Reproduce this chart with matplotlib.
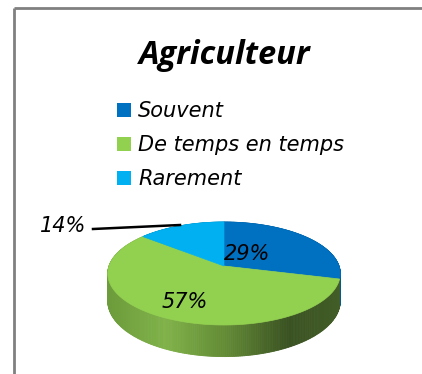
import numpy as np
import matplotlib.pyplot as plt
from matplotlib.patches import Polygon, Rectangle
from matplotlib.colors import LinearSegmentedColormap

# chart data
categories = ["Souvent", "De temps en temps", "Rarement"]
values = [29, 57, 14]
pct_labels = ["29%", "57%", "14%"]
colors = ["#0070C0", "#92D050", "#00B0F0"]
side_colors = ["#005a9a", None, "#0090c8"]

TITLE_FONT = "Open Sans"
TEXT_FONT = "DejaVu Sans"

fig = plt.figure(figsize=(4.22, 3.74), dpi=100)
ax = fig.add_axes([0, 0, 1, 1])
ax.set_xlim(0, 422)
ax.set_ylim(374, 0)
ax.axis("off")

# frame of the chart area
ax.plot([14, 14], [374, 8], color="#808080", lw=2, solid_capstyle="butt")
ax.plot([14, 422], [8, 8], color="#808080", lw=2, solid_capstyle="butt")

# title
ax.text(225, 64, "Agriculteur", ha="center", va="baseline", fontsize=23.5,
        fontweight="bold", style="italic", family=TITLE_FONT, color="black")

# legend
for i, name in enumerate(categories):
    top = 103 + i * 34
    ax.add_patch(Rectangle((117, top), 14, 14, facecolor=colors[i], edgecolor="none"))
    ax.text(138, top + 14, name, ha="left", va="baseline", fontsize=15, style="italic",
            family=TEXT_FONT, color="black")

# ---------------- 3D PIE ----------------
# perspective view of a flat disc: vertex at (cx, cy), k sets the perspective strength
cx, cy, rx, ry, depth, k = 224, 266, 115, 50.4, 27, 6.86

frac = np.array(values) / sum(values)
starts = 90 - 360 * np.concatenate([[0], np.cumsum(frac)[:-1]])
ends = starts - 360 * frac

green_side = LinearSegmentedColormap.from_list(
    "green_side",
    [(0.0, "#6c9c3b"), (0.25, "#80b249"), (0.5, "#648c36"),
     (0.78, "#3a5222"), (1.0, "#425d27")])


def proj(theta_deg):
    t = np.radians(theta_deg)
    X, Y = np.cos(t), np.sin(t)
    f = k / (k + Y)
    return cx + rx * X * f, cy - ry * Y * f, f


# side walls, far pieces first so the near ones cover them
quads = []
for i in range(len(values)):
    th = np.linspace(starts[i], ends[i], 240)
    for a, b in zip(th[:-1], th[1:]):
        x1, y1, f1 = proj(a)
        x2, y2, f2 = proj(b)
        if side_colors[i] is None:
            u = ((x1 + x2) / 2 - (cx - rx)) / (2 * rx)
            c = green_side(np.clip(u, 0, 1))
        else:
            c = side_colors[i]
        ymid = np.sin(np.radians((a + b) / 2))
        quads.append((ymid, [(x1, y1), (x2, y2), (x2, y2 + depth * f2), (x1, y1 + depth * f1)], c))

for _, pts, c in sorted(quads, key=lambda q: -q[0]):
    ax.add_patch(Polygon(pts, closed=True, facecolor=c, edgecolor=c, lw=0.6))

# top faces
for i in range(len(values)):
    th = np.linspace(starts[i], ends[i], 240)
    xs, ys, _ = proj(th)
    pts = [(cx, cy)] + list(zip(xs, ys))
    ax.add_patch(Polygon(pts, closed=True, facecolor=colors[i], edgecolor=colors[i], lw=0.5))

# value labels
ax.text(247, 260, pct_labels[0], ha="center", va="baseline", fontsize=15,
        style="italic", family=TEXT_FONT, color="black")
ax.text(185, 308, pct_labels[1], ha="center", va="baseline", fontsize=15,
        style="italic", family=TEXT_FONT, color="black")
ax.text(63, 232, pct_labels[2], ha="center", va="baseline", fontsize=15,
        style="italic", family=TEXT_FONT, color="black")
ax.plot([93, 180], [229, 225], color="black", lw=1.8)

fig.savefig("out.png", dpi=100)
